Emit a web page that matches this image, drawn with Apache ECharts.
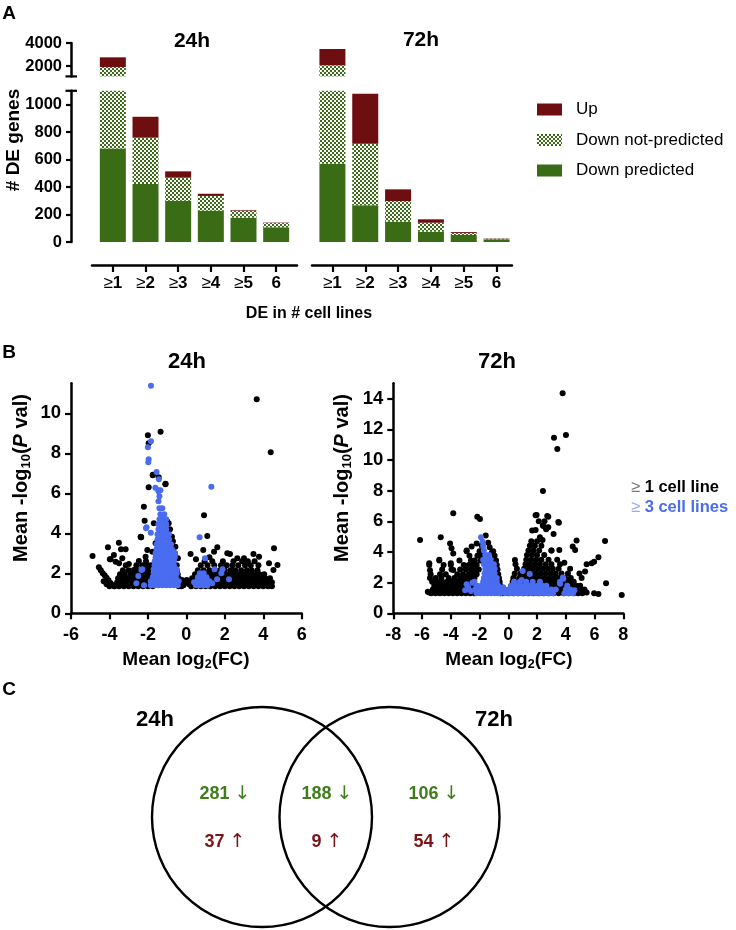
<!DOCTYPE html>
<html>
<head>
<meta charset="utf-8">
<script src="https://cdn.jsdelivr.net/npm/echarts@6/dist/echarts.min.js"></script>
<style>html,body{margin:0;padding:0;background:#fff}#c{width:736px;height:930px}</style>
</head>
<body>
<div id="c"></div>
<script>
// ---------------- DATA ----------------
const categories = ['≥1', '≥2', '≥3', '≥4', '≥5', '6'];
const downPred24 = [681, 422, 300, 228, 177, 107];
const downNotPred24 = [1232, 337, 168, 107, 51, 31];
const up24 = [844, 152, 46, 16, 5, 3];
const downPred72 = [569, 267, 148, 75, 51, 20];
const downNotPred72 = [1492, 448, 150, 65, 14, 4];
const up72 = [1417, 364, 85, 25, 7, 2];

const upperTicks = [2000, 4000];
const lowerTicks = [0, 200, 400, 600, 800, 1000];
const y24Ticks = [0, 2, 4, 6, 8, 10];
const y72Ticks = [0, 2, 4, 6, 8, 10, 12, 14];

// scatter rows: [y, x1, x2, ...] ; extras: [x, y]
const s24BlackRows = [
  [1.35, -3.75,-3.5,-3.25,-3.0,-2.75,-2.5,-2.25,-2.0,-1.75,-0.4,-0.25],
  [1.55, -3.6,-3.35,-3.1,-2.85,-2.6,-2.35,-2.1,-1.85,-0.35],
  [1.75, -3.55,-3.3,-3.05,-2.8,-2.55,-2.3,-2.05,-1.8,-0.4],
  [1.95, -3.45,-3.2,-2.9,-2.65,-2.4,-2.15,-1.9,-0.45],
  [2.15, -3.3,-3.0,-2.7,-2.45,-2.2,-1.95,-0.5],
  [2.4, -3.15,-2.6,-2.3,-2.05,-1.85,-0.5],
  [1.35, 0.25,0.5,0.75,1.0,1.25,1.5,1.75,2.0,2.25,2.5,2.75,3.0,3.25,3.5,3.75,4.0,4.25,4.45],
  [1.55, 0.2,0.45,0.7,0.95,1.2,1.45,1.7,1.95,2.2,2.45,2.7,2.95,3.2,3.45,3.7,3.95,4.2,4.45],
  [1.75, 0.3,0.6,0.85,1.1,1.35,1.6,1.85,2.1,2.35,2.6,2.85,3.1,3.35,3.6,3.85,4.1,4.35],
  [1.95, 0.45,0.75,1.05,1.3,1.55,1.8,2.05,2.3,2.55,2.8,3.05,3.3,3.55,3.8,4.05],
  [2.15, 0.6,0.9,1.2,1.5,1.75,2.0,2.3,2.55,2.85,3.15,3.4,3.7],
  [2.4, 0.75,1.1,1.45,1.8,2.1,2.4,2.7,3.05,3.35,3.75],
  [2.6, 0.95,1.35,1.9,2.45,2.9,3.2,3.55]
];
const s24BlackExtra = [
  [-4.55,2.3],[-4.45,2.15],[-4.35,2.0],[-4.25,1.9],[-4.15,1.78],[-4.05,1.65],[-3.95,1.52],[-3.85,1.42],[-3.75,1.35],
  [-4.3,1.6],[-4.15,1.45],[-4.0,1.35],
  [-4.88,2.87],[-4.08,3.3],[-3.98,2.7],[-3.77,2.92],[-3.51,3.53],[-3.4,3.2],[-3.16,3.2],[-3.94,2.7],[-3.68,2.58],
  [-3.33,2.75],[-3.5,2.5],[-2.99,2.47],[-2.47,2.62],[-2.73,2.17],[-2.12,2.83],[-2.03,3.17],[-2.38,3.83],[-2.35,3.8],
  [-2.17,4.63],[-2.21,5.33],[-2.1,2.6],
  [-1.69,4.5],[-1.6,3.5],[-1.77,3.08],[-0.92,4.5],[-0.75,3.83],[-0.57,3.33],[-0.44,2.75],[-0.6,3.0],[-0.7,3.6],
  [-0.85,4.2],[-1.0,4.6],[-0.23,1.67],[0.02,1.67],[-0.1,1.5],[-0.15,1.4],
  [-1.34,9.08],[-2.0,8.9],[-1.96,8.5],[-1.75,6.9],[-1.44,6.8],[-1.09,6.45],[-1.96,6.3],[-1.74,6.93],[-1.08,6.48],
  [-2.36,3.8],[3.66,10.7],[4.39,8.05],
  [0.92,4.9],[1.09,3.87],[0.22,2.97],[0.88,3.17],[1.44,3.08],[1.61,3.3],[2.13,3.0],[2.27,2.97],[2.65,2.75],
  [3.0,2.75],[3.49,2.97],[3.78,2.83],[4.56,3.25],[4.3,2.5],[4.74,2.42],[4.53,2.17],[0.5,2.7],[1.2,2.8],[0.3,1.6],[0.15,1.45]
];
const s24BlueRows = [
  [1.4, -1.85,-1.65,-1.45,-1.25,-1.05,-0.85,-0.65,-0.45],
  [1.6, -1.8,-1.6,-1.4,-1.2,-1.0,-0.8,-0.6,-0.4],
  [1.8, -1.75,-1.55,-1.35,-1.15,-0.95,-0.75,-0.55],
  [2.0, -1.7,-1.5,-1.3,-1.1,-0.9,-0.7,-0.5],
  [2.2, -1.7,-1.5,-1.3,-1.1,-0.9,-0.7,-0.5],
  [2.4, -1.65,-1.45,-1.25,-1.05,-0.85,-0.65],
  [2.6, -1.65,-1.45,-1.25,-1.05,-0.85,-0.65],
  [2.8, -1.6,-1.4,-1.2,-1.0,-0.8,-0.6],
  [3.0, -1.6,-1.4,-1.2,-1.0,-0.8,-0.6],
  [3.2, -1.55,-1.35,-1.15,-0.95,-0.75],
  [3.45, -1.55,-1.35,-1.15,-0.95,-0.8],
  [3.7, -1.5,-1.3,-1.1,-0.9],
  [3.95, -1.5,-1.3,-1.1,-0.9],
  [4.2, -1.45,-1.25,-1.05],
  [4.45, -1.45,-1.25,-1.05],
  [4.7, -1.4,-1.2,-1.05],
  [4.95, -1.35,-1.15],
  [5.25, -1.4,-1.25],
  [5.6, -1.45],
  [5.85, -1.4],
  [6.15, -1.45,-1.35],
  [1.4, 0.5,0.7,0.9,1.1],
  [1.6, 0.55,0.75,0.95,1.2],
  [1.8, 0.6,0.85,1.05],
  [2.0, 0.7,0.9]
];
const s24BlueExtra = [
  [-1.84,11.38],[-1.84,8.6],[-2.0,8.3],[-1.96,7.7],[-1.98,7.55],[-1.55,7.07],[-1.43,6.7],[-1.61,6.28],[-1.45,6.1],
  [1.3,6.33],[0.69,3.8],[-2.1,4.25],[-2.07,4.3],[-1.85,4.03],[-2.34,2.17],[-1.85,1.6],[-2.5,1.87],[-2.29,2.2],
  [-2.6,1.5],[-2.2,1.4],
  [0.97,2.75],[1.47,2.2],[1.82,2.0],[2.22,1.7],[1.88,2.2],[1.35,1.5],[1.6,1.7],[0.4,1.55]
];

const s72BlackRows = [
  [1.3, -5.35,-5.05,-4.75,-4.45,-4.15,-3.85,-3.55,-3.25,-2.95,-2.65,-2.35,-0.55,-0.4],
  [1.55, -5.25,-4.95,-4.65,-4.35,-4.05,-3.75,-3.45,-3.15,-2.85,-2.55,-0.5],
  [1.8, -5.15,-4.85,-4.5,-4.2,-3.9,-3.6,-3.3,-3.0,-2.7,-2.45,-0.55],
  [2.05, -5.3,-4.95,-4.6,-4.25,-3.9,-3.55,-3.2,-2.9,-2.6,-0.6],
  [2.3, -5.45,-5.05,-4.65,-4.15,-3.75,-3.35,-2.95,-2.6,-2.35,-0.65],
  [2.55, -5.4,-4.75,-4.35,-3.55,-3.15,-2.75,-2.45,-2.2,-0.7],
  [2.85, -4.6,-3.95,-3.35,-2.95,-2.6,-2.3,-2.05,-0.75],
  [3.15, -5.5,-4.5,-4.0,-3.1,-2.75,-2.5,-2.2,-0.8],
  [3.45, -4.8,-3.4,-2.6,-2.35,-1.95,-0.85],
  [3.75, -2.7,-2.15,-1.9,-0.95],
  [4.05, -2.9,-2.0,-1.05],
  [1.3, 0.0,0.35,0.7,1.05,1.4,1.75,2.1,2.45,2.8,3.15,3.5,3.85,4.2,4.55,4.85,5.15],
  [1.55, 0.1,0.45,0.8,1.15,1.5,1.85,2.2,2.55,2.9,3.25,3.6,3.95,4.3,4.65,5.0],
  [1.8, 0.2,0.55,0.9,1.25,1.6,1.95,2.3,2.65,3.0,3.35,3.7,4.05,4.4,4.75],
  [2.05, 0.3,0.65,1.0,1.35,1.7,2.05,2.4,2.75,3.1,3.45,3.8,4.2,4.55],
  [2.3, 0.35,0.75,1.1,1.45,1.8,2.15,2.5,2.85,3.2,3.55,3.95,4.35],
  [2.6, 0.45,0.85,1.2,1.55,1.9,2.25,2.6,2.95,3.3,3.7,4.15],
  [2.9, 0.6,1.1,1.4,1.7,2.05,2.4,2.75,3.1,3.5],
  [3.2, 0.5,1.2,1.5,1.85,2.2,2.6,3.0,3.6],
  [3.5, 1.25,1.6,1.95,2.3,2.8,3.4],
  [3.8, 1.3,1.65,2.0,2.5],
  [4.1, 1.4,1.75,2.15,3.0],
  [4.4, 1.5,1.85,2.3],
  [4.7, 1.6,2.0]
];
const s72BlackExtra = [
  [-6.14,4.78],[-4.7,4.96],[-3.83,6.52],[-2.16,6.3],[-1.97,6.15],[-1.57,5.07],[-4.05,4.56],[-3.95,4.25],[-3.83,3.9],
  [-5.5,3.26],[-5.45,2.8],[-5.6,1.4],[-5.5,1.35],[-2.55,4.35],[-2.2,4.56],[-2.9,4.1],[-1.4,4.6],[-1.3,4.3],[-1.15,3.95],
  [-4.8,3.5],[-4.0,3.26],[-3.83,2.83],[-1.85,4.4],
  [0.46,3.48],[1.9,6.4],[2.71,6.35],[3.52,5.9],[2.45,5.7],[2.63,5.48],[1.9,5.43],[3.15,5.17],[2.2,4.96],[2.38,4.78],
  [4.75,4.74],[4.48,4.35],[4.65,4.13],[3.55,4.13],[3.0,4.09],[6.73,4.72],[6.27,3.65],[5.97,3.37],[5.8,3.26],[5.45,3.2],
  [5.34,2.72],[6.8,1.96],[6.27,1.26],[5.97,1.3],[7.89,1.2],[1.97,6.41],[2.78,6.3],[3.48,5.96],[2.12,6.0],[2.52,6.0],
  [2.4,5.73],[2.78,5.62],[1.66,5.4],[3.78,14.35],[3.18,11.45],[4.01,11.63],[3.41,10.72],[2.41,7.98],[5.1,2.3],[5.0,1.8],
  [5.3,1.55],[5.45,1.35],[4.95,2.6],[3.9,3.3],[4.3,2.9]
];
const s72BlueRows = [
  [1.3, -2.2,-1.95,-1.7,-1.45,-1.2,-0.95,-0.7,-0.55],
  [1.55, -2.3,-2.05,-1.8,-1.55,-1.3,-1.05,-0.8,-0.6],
  [1.8, -2.2,-1.9,-1.65,-1.4,-1.15,-0.9,-0.7],
  [2.05, -2.35,-1.75,-1.5,-1.25,-1.0,-0.8],
  [2.3, -1.7,-1.45,-1.2,-0.95,-0.8],
  [2.6, -1.65,-1.4,-1.15,-0.95],
  [2.9, -1.6,-1.35,-1.1,-0.95],
  [3.2, -1.7,-1.45,-1.2,-1.0],
  [3.5, -1.75,-1.5,-1.25],
  [3.8, -1.6,-1.35],
  [4.1, -1.7],
  [1.3, -0.2,0.1,0.4,0.7,1.0,1.3,1.6,1.9,2.2,2.5,2.8,3.1,3.9,4.2,4.5],
  [1.55, -0.3,0.0,0.3,0.6,0.9,1.2,1.5,1.8,2.1,2.4,2.7,3.0,3.3,4.0,4.3],
  [1.8, 0.2,0.5,0.85,1.15,1.45,1.75,2.05,2.35,2.65,4.1],
  [2.05, 0.4,0.8,1.25,1.7,2.2,3.6]
];
const s72BlueExtra = [
  [-1.9,4.96],[-1.78,4.67],[-1.75,4.4],[-2.8,1.7],[-2.6,1.45],[-2.9,1.9],[-2.5,2.0],[-3.0,1.5],
  [1.0,2.76],[1.49,2.57],[0.93,2.17],[3.8,2.33],[3.83,2.26],[3.6,1.92],[-0.35,1.7],[4.6,1.5]
];

const vennDown = [281, 188, 106];
const vennUp = [37, 9, 54];

// ---------------- STYLE ----------------
const F = "'Liberation Sans', Arial, Helvetica, sans-serif";
const GREEN = '#3a6b15';
const RED = '#6e0e10';
const BLUE = '#4a6cf0';
const TXT_GREEN = '#3f7d1c';
const TXT_RED = '#7a1618';

function rowsToPoints(rows) {
  const out = [];
  rows.forEach(r => { for (let i = 1; i < r.length; i++) out.push([r[i], r[0]]); });
  return out;
}
function checker() {
  const c = document.createElement('canvas');
  c.width = 4; c.height = 4;
  const g = c.getContext('2d');
  g.fillStyle = '#ffffff'; g.fillRect(0, 0, 4, 4);
  g.fillStyle = GREEN; g.fillRect(0, 0, 2, 2); g.fillRect(2, 2, 2, 2);
  return c;
}
const PATTERN = { image: checker(), repeat: 'repeat' };

function barSeries(stack, xi, yi, dp, dnp, up) {
  const base = { type: 'bar', stack: stack, xAxisIndex: xi, yAxisIndex: yi, barWidth: 26, clip: true, silent: true };
  return [
    Object.assign({ name: 'Down predicted', data: dp, itemStyle: { color: GREEN } }, base),
    Object.assign({ name: 'Down not-predicted', data: dnp, itemStyle: { color: PATTERN } }, base),
    Object.assign({ name: 'Up', data: up, itemStyle: { color: RED } }, base)
  ];
}

const catLabel = {
  margin: 10, interval: 0,
  formatter: v => v[0] === '≥' ? '{g|≥}{b|' + v.slice(1) + '}' : '{b|' + v + '}',
  rich: {
    g: { fontSize: 17, fontWeight: 'normal', color: '#000', fontFamily: F },
    b: { fontSize: 17, fontWeight: 'bold', color: '#000', fontFamily: F }
  }
};
const axLine = { show: true, onZero: false, lineStyle: { color: '#000', width: 2.5 } };
const tickLab = (size, margin) => ({ color: '#000', fontWeight: 'bold', fontSize: size, fontFamily: F, margin: margin,
  formatter: v => String(v) });

function catAxis(grid, show) {
  if (!show) return { type: 'category', gridIndex: grid, data: categories, show: false };
  return {
    type: 'category', gridIndex: grid, data: categories, offset: 23,
    axisLine: { show: false, onZero: false },
    axisTick: { show: true, alignWithLabel: true, interval: 0, length: 7, lineStyle: { color: '#000', width: 2.2 } },
    axisLabel: catLabel
  };
}
function lineOnlyX(grid) {
  return { type: 'value', gridIndex: grid, min: 0, max: 1, offset: 23, axisLine: axLine,
    axisTick: { show: false }, axisLabel: { show: false }, splitLine: { show: false } };
}
function barY(grid, min, max, ticks, show) {
  if (!show) return { type: 'value', gridIndex: grid, min: min, max: max, show: false };
  return {
    type: 'value', gridIndex: grid, min: min, max: max, offset: 25.5,
    axisLine: axLine,
    axisTick: { show: true, length: 5, customValues: ticks, lineStyle: { color: '#000', width: 2.2 } },
    axisLabel: Object.assign(tickLab(16.5, 9), { customValues: ticks }),
    splitLine: { show: false }
  };
}
function sx(grid, min, max) {
  return { type: 'value', gridIndex: grid, min: min, max: max, interval: 2,
    axisLine: axLine,
    axisTick: { length: 6, lineStyle: { color: '#000', width: 2.2 } },
    axisLabel: tickLab(18, 13), splitLine: { show: false } };
}
function sy(grid, max, ticks) {
  return { type: 'value', gridIndex: grid, min: 0, max: max,
    axisLine: axLine,
    axisTick: { length: 6, customValues: ticks, lineStyle: { color: '#000', width: 2.2 } },
    axisLabel: Object.assign(tickLab(18.5, 10), { customValues: ticks }), splitLine: { show: false } };
}
function scat(name, xi, data, color) {
  return { name: name, type: 'scatter', xAxisIndex: xi, yAxisIndex: xi, data: data, symbolSize: 6,
    itemStyle: { color: color, opacity: 1 }, silent: true };
}

function txt(x, y, text, size, opts) {
  return Object.assign({ type: 'text', x: x, y: y, silent: true,
    style: Object.assign({ text: text, fontSize: size, fontWeight: 'bold', fontFamily: F, fill: '#000',
      align: 'center', verticalAlign: 'middle' }, (opts && opts.style) || {}) },
    (opts && opts.el) || {});
}
const yTitleRich = {
  m: { fontSize: 20, fontWeight: 'bold', fontFamily: F, fill: '#000' },
  s: { fontSize: 13, fontWeight: 'bold', fontFamily: F, fill: '#000', padding: [10, 0, 0, 0] },
  i: { fontSize: 20, fontWeight: 'bold', fontStyle: 'italic', fontFamily: F, fill: '#000' }
};
const xTitleRich = {
  m: { fontSize: 19, fontWeight: 'bold', fontFamily: F, fill: '#000' },
  s: { fontSize: 12.5, fontWeight: 'bold', fontFamily: F, fill: '#000', padding: [10, 0, 0, 0] }
};
const vennPos = [225, 327, 434];
const graphics = [
  txt(9, 14, 'A', 19), txt(9, 353, 'B', 19), txt(9, 690, 'C', 19),
  txt(192, 41, '24h', 21), txt(421, 40, '72h', 21),
  txt(14, 140, '# DE genes', 19, { el: { rotation: Math.PI / 2 } }),
  txt(309, 314, 'DE in # cell lines', 16),
  txt(187, 362, '24h', 22), txt(497, 362, '72h', 22),
  txt(21, 478, '{m|Mean -log}{s|10}{m|(}{i|P}{m| val)}', 20, { el: { rotation: Math.PI / 2 }, style: { rich: yTitleRich } }),
  txt(342, 478, '{m|Mean -log}{s|10}{m|(}{i|P}{m| val)}', 20, { el: { rotation: Math.PI / 2 }, style: { rich: yTitleRich } }),
  txt(186, 660, '{m|Mean log}{s|2}{m|(FC)}', 19, { style: { rich: xTitleRich } }),
  txt(509, 660, '{m|Mean log}{s|2}{m|(FC)}', 19, { style: { rich: xTitleRich } }),
  { type: 'line', silent: true, shape: { x1: 65.5, y1: 76.4, x2: 77, y2: 76.4 }, style: { stroke: '#000', lineWidth: 2.2 } },
  { type: 'line', silent: true, shape: { x1: 65.5, y1: 90.8, x2: 77, y2: 90.8 }, style: { stroke: '#000', lineWidth: 2.2 } },
  { type: 'circle', silent: true, shape: { cx: 262, cy: 817, r: 110 }, style: { fill: 'none', stroke: '#000', lineWidth: 2.4 } },
  { type: 'circle', silent: true, shape: { cx: 389.5, cy: 817, r: 110 }, style: { fill: 'none', stroke: '#000', lineWidth: 2.4 } },
  txt(155, 720, '24h', 22), txt(494, 720, '72h', 22)
];
const vRich = (col) => ({
  n: { fontSize: 18, fontWeight: 'bold', fontFamily: F, fill: col },
  a: { fontSize: 19, fontWeight: 'normal', fontFamily: 'DejaVu Sans, ' + F, fill: col }
});
vennDown.forEach((v, i) => graphics.push(txt(vennPos[i], 794, '{n|' + v + ' }{a|↓}', 18, { style: { rich: vRich(TXT_GREEN) } })));
vennUp.forEach((v, i) => graphics.push(txt(vennPos[i], 842, '{n|' + v + ' }{a|↑}', 18, { style: { rich: vRich(TXT_RED) } })));

const option = {
  animation: false,
  textStyle: { fontFamily: F },
  grid: [
    { left: 96.5, top: 43, width: 196, height: 33.4 },
    { left: 96.5, top: 90.8, width: 196, height: 151.2 },
    { left: 316, top: 43, width: 197, height: 33.4 },
    { left: 316, top: 90.8, width: 197, height: 151.2 },
    { left: 71, top: 383.3, width: 230.7, height: 230 },
    { left: 393.3, top: 383.3, width: 230, height: 230 },
    { left: 92, top: 90.8, width: 205, height: 151.2 },
    { left: 312, top: 90.8, width: 200, height: 151.2 }
  ],
  xAxis: [
    catAxis(0, false), catAxis(1, true), catAxis(2, false), catAxis(3, true),
    sx(4, -6, 6), sx(5, -8, 8), lineOnlyX(6), lineOnlyX(7)
  ],
  yAxis: [
    barY(0, 1100, 4000, upperTicks, true), barY(1, 0, 1100, lowerTicks, true),
    barY(2, 1100, 4000, upperTicks, false), barY(3, 0, 1100, lowerTicks, false),
    sy(4, 11.5, y24Ticks), sy(5, 15, y72Ticks),
    { type: 'value', gridIndex: 6, min: 0, max: 1, show: false },
    { type: 'value', gridIndex: 7, min: 0, max: 1, show: false }
  ],
  legend: [
    { data: ['Up', 'Down not-predicted', 'Down predicted'], orient: 'vertical', left: 537, top: 101, padding: 0,
      itemWidth: 25, itemHeight: 12, itemGap: 13.5, icon: 'rect', selectedMode: false,
      textStyle: { fontSize: 17, color: '#000', fontFamily: F, padding: [0, 0, 0, 9] } },
    { data: ['≥1 cell line', '≥3 cell lines'], orient: 'vertical', left: 626, top: 478, padding: 0,
      itemWidth: 0, itemHeight: 0, itemGap: 1, icon: 'circle', selectedMode: false,
      formatter: n => n === '≥1 cell line' ? '{g1|≥ }{k|1 cell line}' : '{g2|≥ }{bl|3 cell lines}',
      textStyle: { fontFamily: F, lineHeight: 19, rich: {
        g1: { color: '#777', fontSize: 16.5, fontWeight: 'normal', fontFamily: F },
        k: { color: '#000', fontSize: 16.5, fontWeight: 'bold', fontFamily: F },
        g2: { color: '#98aaf5', fontSize: 16.5, fontWeight: 'normal', fontFamily: F },
        bl: { color: BLUE, fontSize: 16.5, fontWeight: 'bold', fontFamily: F }
      } } }
  ],
  series: [].concat(
    barSeries('u24', 0, 0, downPred24, downNotPred24, up24),
    barSeries('l24', 1, 1, downPred24, downNotPred24, up24),
    barSeries('u72', 2, 2, downPred72, downNotPred72, up72),
    barSeries('l72', 3, 3, downPred72, downNotPred72, up72),
    [
      scat('≥1 cell line', 4, rowsToPoints(s24BlackRows).concat(s24BlackExtra), '#000'),
      scat('≥3 cell lines', 4, rowsToPoints(s24BlueRows).concat(s24BlueExtra), BLUE),
      scat('≥1 cell line', 5, rowsToPoints(s72BlackRows).concat(s72BlackExtra), '#000'),
      scat('≥3 cell lines', 5, rowsToPoints(s72BlueRows).concat(s72BlueExtra), BLUE)
    ]
  ),
  graphic: graphics
};
const chart = echarts.init(document.getElementById('c'), null, { renderer: 'canvas' });
chart.setOption(option);
</script>
</body>
</html>
